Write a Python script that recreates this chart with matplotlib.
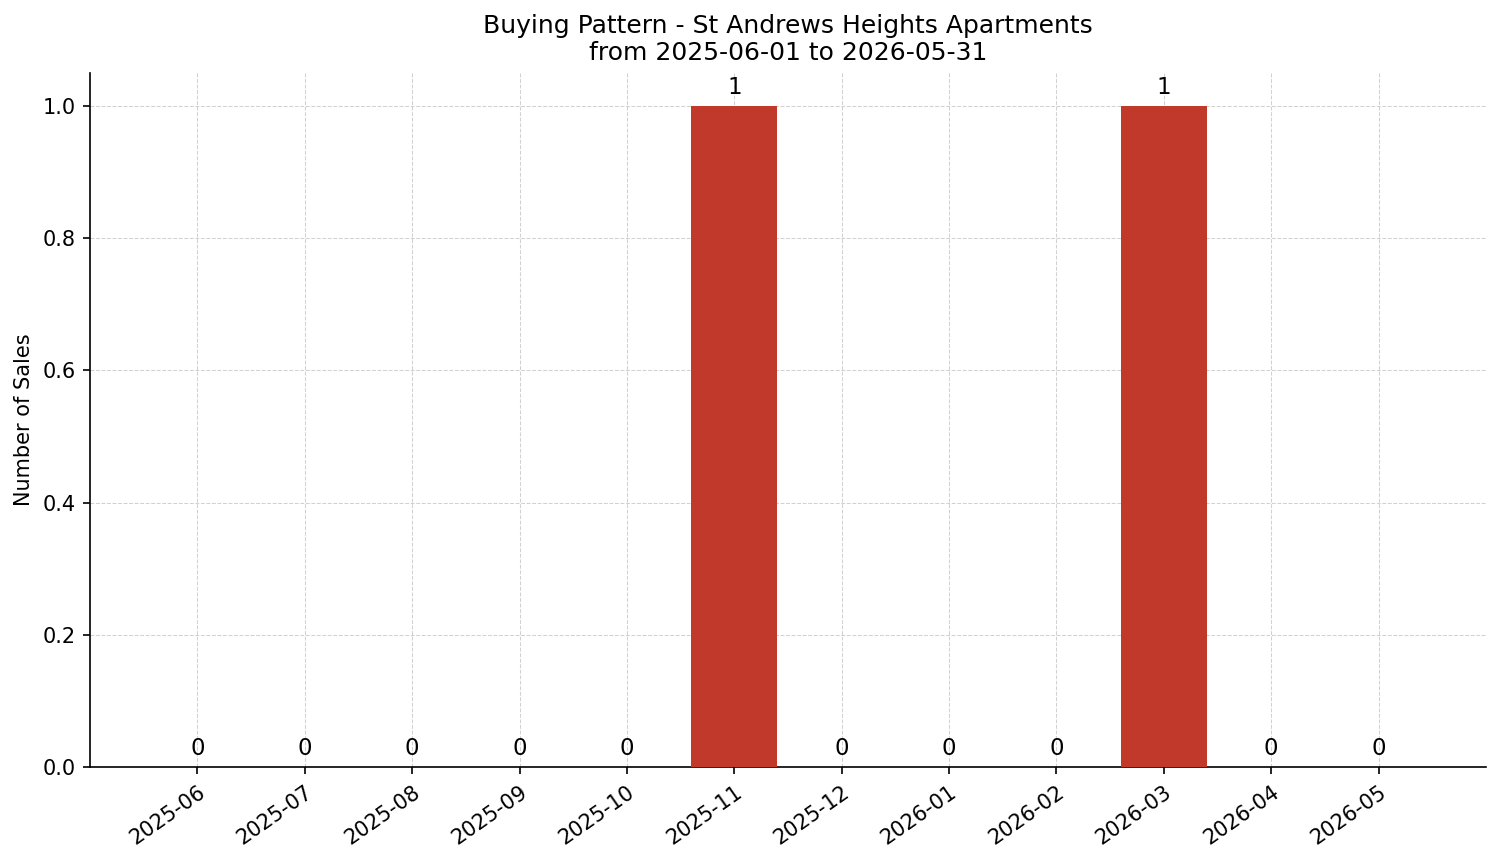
import matplotlib
matplotlib.use("Agg")
import matplotlib.pyplot as plt

months = ["2025-06", "2025-07", "2025-08", "2025-09", "2025-10", "2025-11",
          "2025-12", "2026-01", "2026-02", "2026-03", "2026-04", "2026-05"]
sales = [0, 0, 0, 0, 0, 1, 0, 0, 0, 1, 0, 0]

fig, ax = plt.subplots(figsize=(1501/150, 863/150), dpi=150)
x = range(len(months))
bars = ax.bar(x, sales, width=0.8, color="#c0392b", zorder=3)
for xi, v in zip(x, sales):
    ax.text(xi, v + 0.01, str(v), ha="center", va="bottom", fontsize=11)

ax.set_xticks(list(x))
ax.set_xticklabels(months, rotation=35, ha="right", rotation_mode="anchor")
ax.set_xlim(-1, 12)
ax.set_ylim(0, 1.05)
ax.set_ylabel("Number of Sales")
ax.set_title("Buying Pattern - St Andrews Heights Apartments\nfrom 2025-06-01 to 2026-05-31", fontsize=12)
ax.grid(True, linestyle="--", linewidth=0.5, color="#cccccc", alpha=0.9, zorder=0)
ax.spines["top"].set_visible(False)
ax.spines["right"].set_visible(False)

fig.subplots_adjust(left=90/1501, right=1486/1501, top=1-73/863, bottom=1-767/863)
fig.savefig("out.png", dpi=150)
